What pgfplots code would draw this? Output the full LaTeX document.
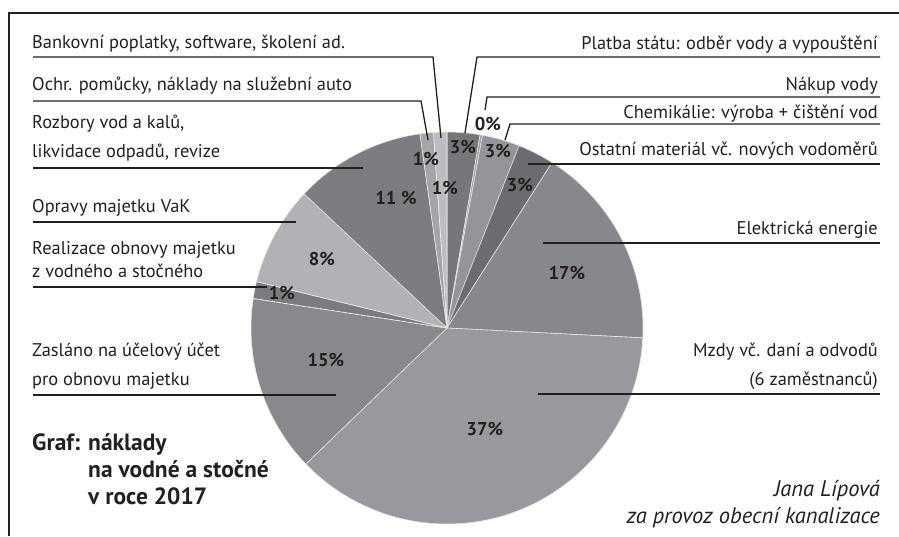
\documentclass[border=0pt]{standalone}
\usepackage{pgfplots}
\usepackage{pgfplotstable}
\pgfplotsset{compat=1.18}
\usepackage{fontspec}
\setmainfont{PT Sans}
\definecolor{txt}{HTML}{231F20}
\definecolor{slice0}{HTML}{76777A}
\definecolor{slice1}{HTML}{A0A1A4}
\definecolor{slice2}{HTML}{939598}
\definecolor{slice3}{HTML}{6B6C6F}
\definecolor{slice4}{HTML}{87888B}
\definecolor{slice5}{HTML}{98999C}
\definecolor{slice6}{HTML}{88898C}
\definecolor{slice7}{HTML}{7B7C7F}
\definecolor{slice8}{HTML}{B1B2B5}
\definecolor{slice9}{HTML}{7C7D80}
\definecolor{slice10}{HTML}{A4A5A8}
\definecolor{slice11}{HTML}{BCBDC0}
% share of each item, clockwise from 12 o'clock
\pgfplotstableread{
val
2.7
0.2
3.1
3.0
16.8
37.0
14.6
1.4
8.2
10.8
1.1
1.1
}\piedata
\newcommand{\lab}{\fontsize{18.4}{20}\selectfont}
\newcommand{\pct}{\fontsize{18.5}{20}\selectfont\bfseries}
\begin{document}
\begin{tikzpicture}
\pgfplotstablegetrowsof{\piedata}
\pgfmathtruncatemacro\nrows{\pgfplotsretval-1}
\gdef\cum{0}
\foreach \i in {0,...,\nrows}{
  \pgfplotstablegetelem{\i}{val}\of\piedata
  \let\v\pgfplotsretval
  \pgfmathsetmacro\a{90-3.6*\cum}
  \pgfmathsetmacro\newcum{\cum+\v}
  \pgfmathsetmacro\b{90-3.6*\newcum}
  \global\expandafter\let\csname sa\i\endcsname\a
  \global\expandafter\let\csname sb\i\endcsname\b
  \global\let\cum\newcum
}
\begin{axis}[
  width=899pt, height=536pt, scale only axis,
  xmin=0, xmax=899, ymin=0, ymax=536, y dir=reverse,
  enlargelimits=false, hide axis, clip=false]
\path (rel axis cs:0,0) rectangle (rel axis cs:1,1);
\pgfplotsinvokeforeach{0,...,11}{
  \fill[slice#1, draw=white!75!slice#1, line width=0.6pt]
    (axis cs:447,328) -- ([shift={(\csname sa#1\endcsname:196pt)}]axis cs:447,328)
    arc[start angle=\csname sa#1\endcsname, end angle=\csname sb#1\endcsname, radius=196pt] -- cycle;
}
\draw[white!85!gray, dashed, line width=0.6pt] (axis cs:447,328) -- ([shift={(\csname sb6\endcsname:196pt)}]axis cs:447,328);
% frame
\draw[txt, line width=1.2pt] (axis cs:9,536) -- (axis cs:9,13) -- (axis cs:899,13);
% leader lines
\begin{scope}[txt, line width=1.3pt]
\draw (axis cs:33,57) -- (axis cs:433,57) -- (axis cs:441,138);
\draw (axis cs:33,101) -- (axis cs:421,101) -- (axis cs:428,140);
\draw (axis cs:33,168) -- (axis cs:363,168);
\draw (axis cs:33,222) -- (axis cs:296,222);
\draw (axis cs:33,287) -- (axis cs:267,287);
\draw (axis cs:33,395) -- (axis cs:336,395);
\draw (axis cs:880,57) -- (axis cs:477,57) -- (axis cs:465,133);
\draw (axis cs:880,97) -- (axis cs:487,97) -- (axis cs:485,110);
\draw (axis cs:880,124) -- (axis cs:510,124) -- (axis cs:505,140);
\draw (axis cs:880,164) -- (axis cs:528,164);
\draw (axis cs:880,243) -- (axis cs:543,243);
\draw (axis cs:880,394) -- (axis cs:538,394);
\end{scope}
% left labels
\begin{scope}[every node/.style={anchor=base west, inner sep=0pt, text=txt, font=\lab}]
\node at (axis cs:32,48) {Bankovní poplatky, software, školení ad.};
\node at (axis cs:32,90) {Ochr. pomůcky, náklady na služební auto};
\node at (axis cs:32,128) {Rozbory vod a kalů,};
\node at (axis cs:32,157) {likvidace odpadů, revize};
\node at (axis cs:32,212) {Opravy majetku VaK};
\node at (axis cs:32,254) {Realizace obnovy majetku};
\node at (axis cs:32,277) {z vodného a stočného};
\node at (axis cs:32,356) {Zasláno na účelový účet};
\node at (axis cs:32,385) {pro obnovu majetku};
\end{scope}
\begin{scope}[every node/.style={anchor=base west, inner sep=0pt, text=txt, font=\fontsize{23.5}{26}\selectfont\bfseries}]
\node at (axis cs:32,450) {Graf: náklady};
\node at (axis cs:88,477) {na vodné a stočné};
\node at (axis cs:88,504) {v roce 2017};
\end{scope}
% right labels
\begin{scope}[every node/.style={anchor=base east, inner sep=0pt, text=txt, font=\lab}]
\node at (axis cs:878,49) {Platba státu: odběr vody a vypouštění};
\node at (axis cs:878,90) {Nákup vody};
\node at (axis cs:878,118) {Chemikálie: výroba + čištění vod};
\node at (axis cs:878,155) {Ostatní materiál vč. nových vodoměrů};
\node at (axis cs:878,234) {Elektrická energie};
\node at (axis cs:878,356) {Mzdy vč. daní a odvodů};
\node at (axis cs:878,385) {(6 zaměstnanců)};
\end{scope}
\begin{scope}[every node/.style={anchor=base east, inner sep=0pt, text=txt, font=\fontsize{22.5}{24}\selectfont\itshape}]
\node at (axis cs:880,496) {Jana Lípová};
\node at (axis cs:880,523) {za provoz obecní kanalizace};
\end{scope}
% percentage labels
\begin{scope}[every node/.style={anchor=center, inner sep=0pt, text=txt, font=\pct}]
\node at (axis cs:463,147) {3\%};
\node at (axis cs:488,124) {0\%};
\node at (axis cs:498,151) {3\%};
\node at (axis cs:520,185) {3\%};
\node at (axis cs:567,273) {17\%};
\node at (axis cs:485,429) {37\%};
\node at (axis cs:326,360) {15\%};
\node at (axis cs:282,293) {1\%};
\node at (axis cs:322,259) {8\%};
\node at (axis cs:396,198) {11 \%};
\node at (axis cs:426,159) {1\%};
\node at (axis cs:445,188) {1\%};
\end{scope}
\end{axis}
\pgfresetboundingbox
\useasboundingbox (0,0) rectangle (899pt,536pt);
\end{tikzpicture}
\end{document}
